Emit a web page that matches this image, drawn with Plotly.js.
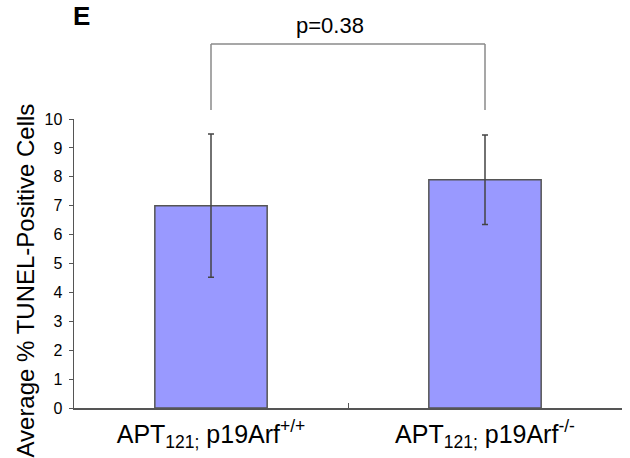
<!DOCTYPE html>
<html>
<head>
<meta charset="utf-8">
<script src="https://cdn.plot.ly/plotly-3.0.1.min.js"></script>
<style>html,body{margin:0;padding:0;background:#fff;}#chart{width:630px;height:458px;}</style>
</head>
<body>
<div id="chart"></div>
<script>
var categories = ["APT<sub>121;</sub> p19Arf<sup>+/+</sup>", "APT<sub>121;</sub> p19Arf<sup>-/-</sup>"];
var meanValues = [7.0, 7.9];
var errorValues = [2.48, 1.55];
var yTickValues = [0, 1, 2, 3, 4, 5, 6, 7, 8, 9, 10];
var pValueLabel = "p=0.38";
var panelLabel = "E";
var yTitle = "Average % TUNEL-Positive Cells";

var trace = {
  type: "bar",
  x: categories,
  y: meanValues,
  marker: {color: "#9999ff", line: {color: "#555555", width: 1.5}},
  error_y: {type: "data", array: errorValues, visible: true, color: "#444444", thickness: 1.5, width: 3},
  hoverinfo: "none"
};

var bracketColor = "#8a8a8a";
var bracketLow = 1.031, bracketHigh = 1.2595;

var layout = {
  width: 630, height: 458,
  margin: {l: 74, r: 8, t: 119, b: 50, pad: 0},
  paper_bgcolor: "#ffffff", plot_bgcolor: "#ffffff",
  showlegend: false,
  bargap: 0.59,
  font: {family: "Liberation Sans, Arial, sans-serif", color: "#000"},
  xaxis: {
    type: "category",
    range: [-0.5, 1.5],
    tickson: "boundaries",
    ticks: "inside", ticklen: 5, tickwidth: 1, tickcolor: "#555",
    showline: true, linecolor: "#555", linewidth: 1.5,
    showgrid: false, zeroline: false,
    tickfont: {size: 25, family: "Liberation Sans, Arial, sans-serif", color: "#000"},
    ticklabelstandoff: 3,
    fixedrange: true
  },
  yaxis: {
    range: [0, 10],
    tickvals: yTickValues,
    ticks: "outside", ticklen: 4, tickwidth: 1, tickcolor: "#555",
    showline: true, linecolor: "#555", linewidth: 1.5,
    showgrid: false, zeroline: false,
    tickfont: {size: 16, family: "Liberation Sans Narrow, Arial Narrow, Liberation Sans, sans-serif", color: "#000"},
    ticklabelstandoff: 3,
    fixedrange: true
  },
  shapes: [
    {type: "line", xref: "x", yref: "paper", x0: 0, x1: 0, y0: bracketLow, y1: bracketHigh, line: {color: bracketColor, width: 1.5}},
    {type: "line", xref: "x", yref: "paper", x0: 0, x1: 1, y0: bracketHigh, y1: bracketHigh, line: {color: bracketColor, width: 1.5}},
    {type: "line", xref: "x", yref: "paper", x0: 1, x1: 1, y0: bracketLow, y1: bracketHigh, line: {color: bracketColor, width: 1.5}}
  ],
  annotations: [
    {text: pValueLabel, xref: "paper", yref: "paper", x: 0.468, y: 1.322, xanchor: "center", yanchor: "middle",
     showarrow: false, font: {size: 22, family: "Liberation Sans, Arial, sans-serif", color: "#000"}},
    {text: "<b>" + panelLabel + "</b>", xref: "paper", yref: "paper", x: -0.005, y: 1.355, xanchor: "left", yanchor: "middle",
     showarrow: false, font: {size: 26, family: "Liberation Sans, Arial, sans-serif", color: "#000"}},
    {text: yTitle, xref: "paper", yref: "paper", x: -0.0876, y: 0.441, xanchor: "center", yanchor: "middle", textangle: -90,
     showarrow: false, font: {size: 24, family: "Liberation Sans, Arial, sans-serif", color: "#000"}}
  ]
};

Plotly.newPlot("chart", [trace], layout, {displayModeBar: false, staticPlot: true});
</script>
</body>
</html>
